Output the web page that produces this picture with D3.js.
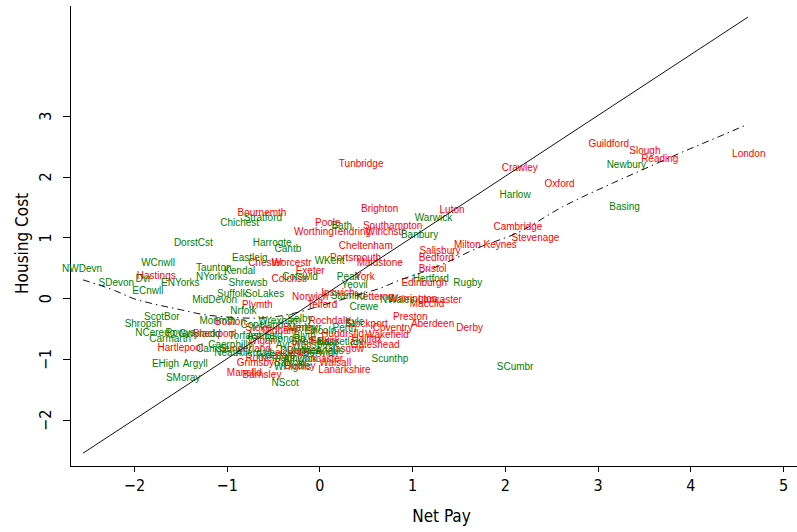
<!DOCTYPE html>
<html>
<head>
<meta charset="utf-8">
<script src="https://cdn.jsdelivr.net/npm/d3@7"></script>
<style>
  html, body { margin: 0; padding: 0; background: #fff; }
  svg { display: block; }
  .axis text { font-family: "Liberation Sans Narrow", "DejaVu Sans Condensed", "Liberation Sans", sans-serif; font-size: 16px; fill: #000; }
  .axis path, .axis line { stroke: #000; stroke-width: 1; shape-rendering: crispEdges; }
  .lab { font-family: "Liberation Sans", Arial, sans-serif; font-size: 10px; }
  .title { font-family: "Liberation Sans Narrow", "DejaVu Sans Condensed", "Liberation Sans", sans-serif; font-size: 17px; fill: #000; }
</style>
</head>
<body>
<svg id="chart" width="797" height="532"></svg>
<script>
// Area labels, standardised net pay (x) and housing cost (y), and group
const names = [
  "Tunbridge","Crawley","Oxford","Guildford","Slough","Reading","London","Cambridge","Stevenage","Milton Keynes",
  "Luton","Brighton","Southampton","Bournemth","Poole","Worthing","Tendring","Winchstr","Cheltenham","Portsmouth",
  "Maidstone","Bedford","Salisbury","Bristol","Worcestr","Exeter","Colchstr","York","Hastings","Plymth",
  "Norwich","Ipswich","Telford","Ketterng","Warrington","Maccfld","Lancaster","Edinburgh","Preston","Aberdeen",
  "Derby","Coventry","Wakefield","Stockport","Glasgow","Lanarkshire","Hartlepool","Mansfld","Barnsley","Huddrsfld",
  "Halifax","Burnley","Oldham","Rochdale","Wigan","Sheffield","Leicester","Rotherham","Doncaster","Walsall",
  "Dudley","Grimsby","Gateshead","Sunderland","Blackpool","Stoke","Boston","Dundee","Falkirk","Chester",
  "Harlow","Newbury","Basing","Warwick","Banbury","Bath","Chichest","Stratford","DorstCst","Harrogte",
  "Cantb","WKent","Eastleig","NWDevn","SDevon","WCnwll","ECnwll","Dvr","Taunton","Kendal",
  "NYorks","ENYorks","Shrewsb","Suffolk","SoLakes","MidDevon","Cotswld","Peak","Yeovil","Stamfrd",
  "Crewe","Hertford","Rugby","NWales","Nrfolk","Monmth","ScotBor","Shropsh","NCeredg","Powys",
  "Gwynedd","Carmarth","EHigh","Argyll","SMoray","WHighls","NScot","Scunthp","SCumbr","Wrexham",
  "Selby","Lincoln","Blyth","Ayr","Dumfries","Angus","Perth","Wansbeck","Tynedale","Alnwick",
  "Allerdale","Bassetlaw","Ashfield","Caerphilly","Neath","Torfaen","Rhondda","Merthyr","Copeland","Barrow",
  "Berwick","Kyle","Carlisle"
];
const netPay = [
  0.45,2.16,2.59,3.12,3.51,3.67,4.63,2.14,2.33,1.79,
  1.43,0.65,0.79,-0.62,0.09,-0.06,0.35,0.71,0.50,0.39,
  0.65,1.26,1.30,1.22,-0.30,-0.10,-0.32,0.49,-1.76,-0.67,
  -0.10,0.20,0.03,0.60,1.01,1.16,1.30,1.13,0.98,1.22,
  1.62,0.79,0.73,0.51,0.27,0.27,-1.50,-0.81,-0.62,0.25,
  0.51,-0.21,-0.43,0.11,-0.62,-0.10,-0.32,-0.53,0.01,0.17,
  -0.21,-0.69,0.60,-0.80,-1.13,-0.66,-0.96,-0.16,0.06,-0.58,
  2.11,3.31,3.29,1.23,1.08,0.24,-0.86,-0.61,-1.36,-0.51,
  -0.34,0.11,-0.75,-2.56,-2.19,-1.74,-1.85,-1.90,-1.14,-0.86,
  -1.16,-1.50,-0.77,-0.94,-0.59,-1.13,-0.21,0.31,0.38,0.31,
  0.48,1.20,1.60,0.84,-0.82,-1.10,-1.70,-1.90,-1.77,-1.50,
  -1.29,-1.61,-1.66,-1.34,-1.47,-0.29,-0.37,0.76,2.11,-0.43,
  -0.21,0.01,-0.16,-0.39,-0.21,0.11,0.27,-0.05,-0.48,-0.21,
  -0.69,0.22,-0.59,-0.96,-0.99,-0.80,-0.37,-0.16,-0.62,-0.32,
  0.01,0.38,-1.15
];
const housingCost = [
  2.22,2.14,1.88,2.55,2.42,2.29,2.38,1.18,0.99,0.89,
  1.45,1.48,1.20,1.40,1.25,1.09,1.09,1.09,0.86,0.67,
  0.59,0.67,0.79,0.49,0.58,0.46,0.33,0.35,0.38,-0.10,
  0.03,0.10,-0.10,0.02,0.00,-0.08,-0.03,0.25,-0.31,-0.41,
  -0.48,-0.49,-0.59,-0.41,-0.82,-1.18,-0.81,-1.22,-1.25,-0.58,
  -0.66,-0.48,-0.53,-0.36,-0.69,-0.72,-0.89,-0.97,-0.99,-1.05,
  -1.10,-1.05,-0.77,-0.82,-0.58,-0.49,-0.39,-0.86,-0.70,0.58,
  1.71,2.20,1.51,1.33,1.04,1.20,1.25,1.32,0.92,0.92,
  0.82,0.62,0.67,0.49,0.25,0.59,0.13,0.33,0.51,0.46,
  0.35,0.25,0.26,0.08,0.08,-0.03,0.35,0.35,0.23,0.05,
  -0.13,0.33,0.25,-0.03,-0.20,-0.36,-0.31,-0.41,-0.56,-0.56,
  -0.58,-0.66,-1.07,-1.07,-1.30,-1.13,-1.38,-0.99,-1.13,-0.36,
  -0.33,-0.53,-0.61,-0.77,-0.86,-0.86,-0.48,-0.77,-0.94,-0.99,
  -0.89,-0.72,-0.61,-0.77,-0.89,-0.61,-0.66,-0.48,-0.44,-1.05,
  -0.89,-0.39,-0.82
];
// 1 = red group, 0 = green group
const group = [
  1,1,1,1,1,1,1,1,1,1,
  1,1,1,1,1,1,1,1,1,1,
  1,1,1,1,1,1,1,1,1,1,
  1,1,1,1,1,1,1,1,1,1,
  1,1,1,1,1,1,1,1,1,1,
  1,1,1,1,1,1,1,1,1,1,
  1,1,1,1,1,1,1,1,1,1,
  0,0,0,0,0,0,0,0,0,0,
  0,0,0,0,0,0,0,0,0,0,
  0,0,0,0,0,0,0,0,0,0,
  0,0,0,0,0,0,0,0,0,0,
  0,0,0,0,0,0,0,0,0,0,
  0,0,0,0,0,0,0,0,0,0,
  0,0,0,0,0,0,0,0,0,0,
  0,0,0
];

// Reference line y = x over the range of net pay
const refX = [-2.55, 4.62];
const refY = [-2.55, 4.62];

// Smoothed (loess) fit of housing cost on net pay
const smoothX = [-2.55,-2.2,-2.0,-1.8,-1.5,-1.25,-1.0,-0.7,-0.45,-0.2,0.0,0.25,0.5,0.65,0.87,1.1,1.3,1.73,2.13,2.62,3.16,3.6,3.88,4.3,4.62];
const smoothY = [0.30,0.12,-0.01,-0.09,-0.19,-0.27,-0.31,-0.33,-0.30,-0.22,-0.13,-0.02,0.09,0.16,0.30,0.42,0.54,0.84,1.07,1.50,1.89,2.19,2.38,2.65,2.86];

const xTicks = [-2,-1,0,1,2,3,4,5];
const yTicks = [-2,-1,0,1,2,3];

const svg = d3.select("#chart");
const x = d3.scaleLinear().domain([-2.69, 5.15]).range([70, 797]);
const y = d3.scaleLinear().domain([-2.76, 4.82]).range([466, 5]);
const colour = d3.scaleOrdinal().domain([1, 0]).range(["#ff0000", "#008000"]);

// Axes
svg.append("g").attr("class", "axis").attr("transform", "translate(0,466)")
  .call(d3.axisBottom(x).tickValues(xTicks).tickSize(6).tickSizeOuter(0).tickPadding(8).tickFormat(d3.format("d")));

const yAxis = svg.append("g").attr("class", "axis").attr("transform", "translate(70,0)")
  .call(d3.axisLeft(y).tickValues(yTicks).tickSize(7).tickSizeOuter(0).tickFormat(d3.format("d")));
yAxis.selectAll(".tick text")
  .attr("x", null).attr("dy", null)
  .attr("text-anchor", "middle")
  .attr("transform", "translate(-25,0) rotate(-90)")
  .attr("y", 0)
  .attr("dominant-baseline", "central");

svg.append("text").attr("class", "title")
  .attr("x", (x.range()[0] + x.range()[1]) / 2 + 8).attr("y", 522)
  .attr("text-anchor", "middle").text("Net Pay");
svg.append("text").attr("class", "title")
  .attr("transform", `translate(22,${y(0.9)}) rotate(-90)`)
  .attr("text-anchor", "middle").attr("dominant-baseline", "central").text("Housing Cost");

// Labelled points
const pts = names.map((n, i) => ({ n, x: netPay[i], y: housingCost[i], g: group[i] }));
svg.append("g").selectAll("text").data(pts).join("text")
  .attr("class", "lab")
  .attr("x", d => x(d.x)).attr("y", d => y(d.y))
  .attr("text-anchor", "middle").attr("dominant-baseline", "central")
  .attr("fill", d => colour(d.g))
  .text(d => d.n);

// Reference line
svg.append("path")
  .attr("d", d3.line().x(d => x(d[0])).y(d => y(d[1]))(refX.map((v, i) => [v, refY[i]])))
  .attr("fill", "none").attr("stroke", "#111").attr("stroke-width", 1);

// Smooth curve, dot-dash
svg.append("path")
  .attr("d", d3.line().x(d => x(d[0])).y(d => y(d[1])).curve(d3.curveMonotoneX)(smoothX.map((v, i) => [v, smoothY[i]])))
  .attr("fill", "none").attr("stroke", "#111").attr("stroke-width", 1)
  .attr("stroke-dasharray", "7,4,1.5,4");
</script>
</body>
</html>
